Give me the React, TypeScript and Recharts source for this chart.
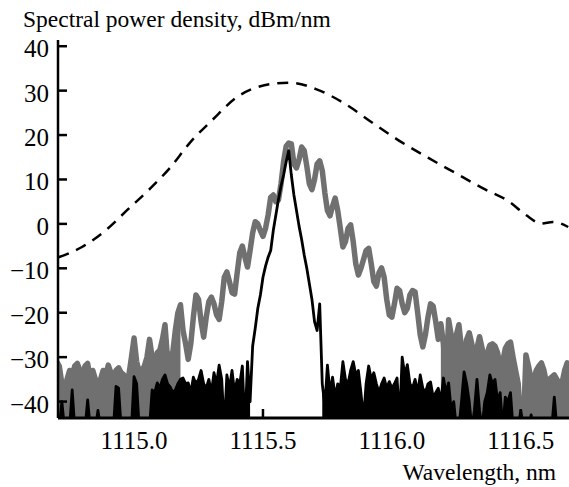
import { ComposedChart, Line, Area, XAxis, YAxis } from "recharts";

// wavelength grid of the two measured spectra, nm
const wavelength = [
  1114.70, 1114.71, 1114.72, 1114.73, 1114.74, 1114.75, 1114.76, 1114.77, 1114.78, 1114.79,
  1114.80, 1114.81, 1114.82, 1114.83, 1114.84, 1114.85, 1114.86, 1114.87, 1114.88, 1114.89,
  1114.90, 1114.91, 1114.92, 1114.93, 1114.94, 1114.95, 1114.96, 1114.97, 1114.98, 1114.99,
  1115.00, 1115.01, 1115.02, 1115.03, 1115.04, 1115.05, 1115.06, 1115.07, 1115.08, 1115.09,
  1115.10, 1115.11, 1115.12, 1115.13, 1115.14, 1115.15, 1115.16, 1115.17, 1115.18, 1115.19,
  1115.20, 1115.21, 1115.22, 1115.23, 1115.24, 1115.25, 1115.26, 1115.27, 1115.28, 1115.29,
  1115.30, 1115.31, 1115.32, 1115.33, 1115.34, 1115.35, 1115.36, 1115.37, 1115.38, 1115.39,
  1115.40, 1115.41, 1115.42, 1115.43, 1115.44, 1115.45, 1115.46, 1115.47, 1115.48, 1115.49,
  1115.50, 1115.51, 1115.52, 1115.53, 1115.54, 1115.55, 1115.56, 1115.57, 1115.58, 1115.59,
  1115.60, 1115.61, 1115.62, 1115.63, 1115.64, 1115.65, 1115.66, 1115.67, 1115.68, 1115.69,
  1115.70, 1115.71, 1115.72, 1115.73, 1115.74, 1115.75, 1115.76, 1115.77, 1115.78, 1115.79,
  1115.80, 1115.81, 1115.82, 1115.83, 1115.84, 1115.85, 1115.86, 1115.87, 1115.88, 1115.89,
  1115.90, 1115.91, 1115.92, 1115.93, 1115.94, 1115.95, 1115.96, 1115.97, 1115.98, 1115.99,
  1116.00, 1116.01, 1116.02, 1116.03, 1116.04, 1116.05, 1116.06, 1116.07, 1116.08, 1116.09,
  1116.10, 1116.11, 1116.12, 1116.13, 1116.14, 1116.15, 1116.16, 1116.17, 1116.18, 1116.19,
  1116.20, 1116.21, 1116.22, 1116.23, 1116.24, 1116.25, 1116.26, 1116.27, 1116.28, 1116.29,
  1116.30, 1116.31, 1116.32, 1116.33, 1116.34, 1116.35, 1116.36, 1116.37, 1116.38, 1116.39,
  1116.40, 1116.41, 1116.42, 1116.43, 1116.44, 1116.45, 1116.46, 1116.47, 1116.48, 1116.49,
  1116.50, 1116.51, 1116.52, 1116.53, 1116.54, 1116.55, 1116.56, 1116.57, 1116.58, 1116.59,
  1116.60, 1116.61, 1116.62, 1116.63, 1116.64, 1116.65, 1116.66, 1116.67, 1116.68, 1116.69,
];

// gray trace (wide spectrum), dBm/nm
const wideDb = [
  -31, -32, -36, -38, -35, -33, -34, -32, -31.4, -33,
  -34, -32, -31.4, -35, -33, -35, -36, -35, -33, -34,
  -31.8, -33.5, -34.7, -33, -32.4, -33.5, -34, -35.6, -34, -30,
  -25.7, -31, -33.3, -33, -32, -30, -26, -30, -33.3, -29,
  -28.4, -26, -22.7, -30.6, -29.5, -29, -24, -20, -18.2, -24,
  -27, -30.5, -27, -21, -16, -17, -22, -25.5, -21, -17.5,
  -16.5, -18, -20.5, -21.5, -17.5, -12, -10.8, -13, -15.5, -15.8,
  -11, -6.5, -5, -7.5, -9.7, -6, -2, 0.5, 0, -1.5,
  -2.8, -1, 2, 6, 6.5, 5, 5.4, 9, 14, 17.5,
  18.2, 18, 13.5, 12.6, 14.5, 17.3, 16.5, 13, 9, 7.7,
  10, 13.5, 14.2, 12, 7, 3, 1.8, 4, 5.8, 3,
  -1, -5.2, -4, -1, -0.2, -4, -9, -11.5, -10, -8,
  -6, -5.5, -9, -13, -14, -11, -9.9, -12, -17, -20.5,
  -21, -18, -14.5, -15, -18, -20, -19, -16, -15, -15.3,
  -20, -25, -27.7, -25, -21, -18, -18.5, -22, -26, -22.5,
  -27, -36, -21.6, -25, -29, -25, -22.7, -28, -31.3, -26,
  -24.5, -27, -30, -28, -25.4, -28, -32.2, -29, -27.3, -27,
  -27.5, -29, -32.2, -31, -28, -27, -26.6, -30, -33, -36,
  -46, -46, -29.5, -32, -35, -35.1, -33, -32, -31.3, -33,
  -36, -35, -34.5, -34, -35, -36, -35.8, -33, -31.3, -32,
];

// black trace (narrow line), dBm/nm
const narrowDb = [
  -46, -46, -40, -46, -46, -46, -37.4, -46, -46, -46,
  -46, -46, -39.6, -46, -46, -46, -42, -46, -46, -46,
  -46, -46, -46, -36.6, -37, -46, -46, -46, -46, -46,
  -34.4, -36, -46, -46, -46, -46, -46, -37.4, -38, -35.8,
  -37, -35, -34, -36, -36.7, -38, -37.4, -36, -35, -34.7,
  -36, -35.8, -38, -34.5, -36, -35, -33, -36, -37, -35,
  -38, -33.5, -36, -31.8, -35, -46, -34, -37, -33, -38,
  -35, -36, -32, -46, -31, -40, -27.5, -23.5, -19, -16,
  -12, -9.5, -7.5, -6, -1.5, 2, 5.5, 8.5, 11, 14,
  16.5, 11, 6.5, 3, -0.5, -3.5, -7, -10, -13.5, -17,
  -22, -24, -18, -36, -41, -31.8, -38, -34.5, -39, -36,
  -37, -31, -35, -36, -33, -31, -34, -33, -38, -44,
  -36, -32, -35, -33.5, -36, -38, -36, -34.7, -37, -35.5,
  -37, -36, -34.7, -44, -30, -34, -31.7, -36, -37, -35,
  -38, -34, -37, -38, -36, -35.6, -39, -38, -37, -40,
  -34.7, -38, -35.8, -42, -40, -46, -46, -40, -33.3, -36,
  -40, -46, -42, -35, -42, -46, -40, -38, -34, -36,
  -35, -40, -38, -46, -39, -40, -38, -46, -46, -46,
  -42, -46, -46, -46, -43, -46, -46, -46, -46, -46,
  -46, -46, -46, -39, -46, -46, -46, -46, -46, -46,
];

// where the noise floor of each trace is solid (filled down to the axis)
const wideFillRanges = [[1114.70, 1115.18], [1116.19, 1116.69]];
const narrowFillRanges = [[1114.70, 1115.45], [1115.73, 1116.69]];

// dashed envelope
const envWl = [
  1114.707, 1114.798, 1114.897, 1114.975, 1115.065, 1115.139, 1115.217, 1115.302,
  1115.401, 1115.505, 1115.604, 1115.708, 1115.819, 1115.931, 1116.029, 1116.140,
  1116.245, 1116.350, 1116.455, 1116.520, 1116.579, 1116.625, 1116.684,
];
const envDb = [
  -7.5, -5.2, -1.1, 3.2, 8.1, 12.6, 18.3, 23.3,
  28.6, 31.2, 31.8, 30.3, 27.0, 22.5, 18.7, 14.9,
  11.5, 8.1, 5.0, 2.0, 0.1, 0.45, -0.7,
];

const xTicks = [1115.0, 1115.5, 1116.0, 1116.5];
const yTicks = [-40, -30, -20, -10, 0, 10, 20, 30, 40];

const FONT = "'Liberation Serif', 'Times New Roman', serif";
const GRAY = "#707070";

function fmtDb(v: number) {
  return v < 0 ? "\u2212" + Math.abs(v) : String(v);
}

function inRanges(wl: number, ranges: number[][]) {
  return ranges.some(([a, b]) => wl >= a - 1e-6 && wl <= b + 1e-6);
}

function YTick(props: any) {
  const { x, y, payload } = props;
  return (
    <g>
      <line x1={x} x2={x + 9} y1={y} y2={y} stroke="#000" strokeWidth={2.5} />
      <text x={x - 9} y={y + 11} textAnchor="end" fontFamily={FONT} fontSize={25} fill="#000">
        {fmtDb(payload.value)}
      </text>
    </g>
  );
}

function XTick(props: any) {
  const { x, y, payload } = props;
  return (
    <g>
      <line x1={x} x2={x} y1={y} y2={y - 9} stroke="#000" strokeWidth={2.5} />
      <text x={x} y={y + 31} textAnchor="middle" fontFamily={FONT} fontSize={25} fill="#000">
        {payload.value.toFixed(1)}
      </text>
    </g>
  );
}

export default function App() {
  const data = wavelength.map((wl, i) => ({
    wl,
    wide: wideDb[i],
    wideFill: inRanges(wl, wideFillRanges) ? wideDb[i] : null,
    narrow: narrowDb[i],
    narrowFill: inRanges(wl, narrowFillRanges) ? narrowDb[i] : null,
  }));
  const envData = envWl.map((wl, i) => ({ wl, env: envDb[i] }));

  return (
    <div style={{ position: "absolute", left: 0, top: 0, width: 569, height: 487, background: "#fff" }}>
      <ComposedChart width={569} height={487} data={data} margin={{ top: 40, right: 0, bottom: 0, left: 0 }}>
        <XAxis
          type="number"
          dataKey="wl"
          domain={[1114.705, 1116.687]}
          allowDataOverflow
          ticks={xTicks}
          interval={0}
          height={69}
          tickSize={0}
          tickMargin={0}
          tickLine={false}
          tick={(p: any) => <XTick {...p} />}
          axisLine={{ stroke: "#000", strokeWidth: 3 }}
        />
        <YAxis
          type="number"
          domain={[-43.7, 41.4]}
          allowDataOverflow
          ticks={yTicks}
          interval={0}
          width={58}
          tickSize={0}
          tickMargin={0}
          tickLine={false}
          tick={(p: any) => <YTick {...p} />}
          axisLine={{ stroke: "#000", strokeWidth: 2.5 }}
        />
        <Area
          dataKey="wideFill"
          type="linear"
          baseValue="dataMin"
          stroke="none"
          fill={GRAY}
          fillOpacity={1}
          connectNulls={false}
          dot={false}
          activeDot={false}
          isAnimationActive={false}
        />
        <Line
          dataKey="wide"
          type="linear"
          stroke={GRAY}
          strokeWidth={5.5}
          strokeLinejoin="round"
          dot={false}
          activeDot={false}
          isAnimationActive={false}
        />
        <Area
          dataKey="narrowFill"
          type="linear"
          baseValue="dataMin"
          stroke="none"
          fill="#000"
          fillOpacity={1}
          connectNulls={false}
          dot={false}
          activeDot={false}
          isAnimationActive={false}
        />
        <Line
          dataKey="narrow"
          type="linear"
          stroke="#000"
          strokeWidth={2.8}
          strokeLinejoin="round"
          dot={false}
          activeDot={false}
          isAnimationActive={false}
        />
        <Line
          data={envData}
          dataKey="env"
          type="monotone"
          stroke="#000"
          strokeWidth={2.5}
          strokeDasharray="11 8"
          dot={false}
          activeDot={false}
          isAnimationActive={false}
        />
      </ComposedChart>
      <div
        style={{
          position: "absolute",
          left: 23,
          top: 5,
          fontFamily: FONT,
          fontSize: 23.5,
          lineHeight: "28px",
          whiteSpace: "nowrap",
          color: "#000",
        }}
      >
        Spectral power density, dBm/nm
      </div>
      <div
        style={{
          position: "absolute",
          left: 0,
          width: 556,
          top: 458,
          textAlign: "right",
          fontFamily: FONT,
          fontSize: 23.5,
          lineHeight: "28px",
          whiteSpace: "nowrap",
          color: "#000",
        }}
      >
        Wavelength, nm
      </div>
    </div>
  );
}
